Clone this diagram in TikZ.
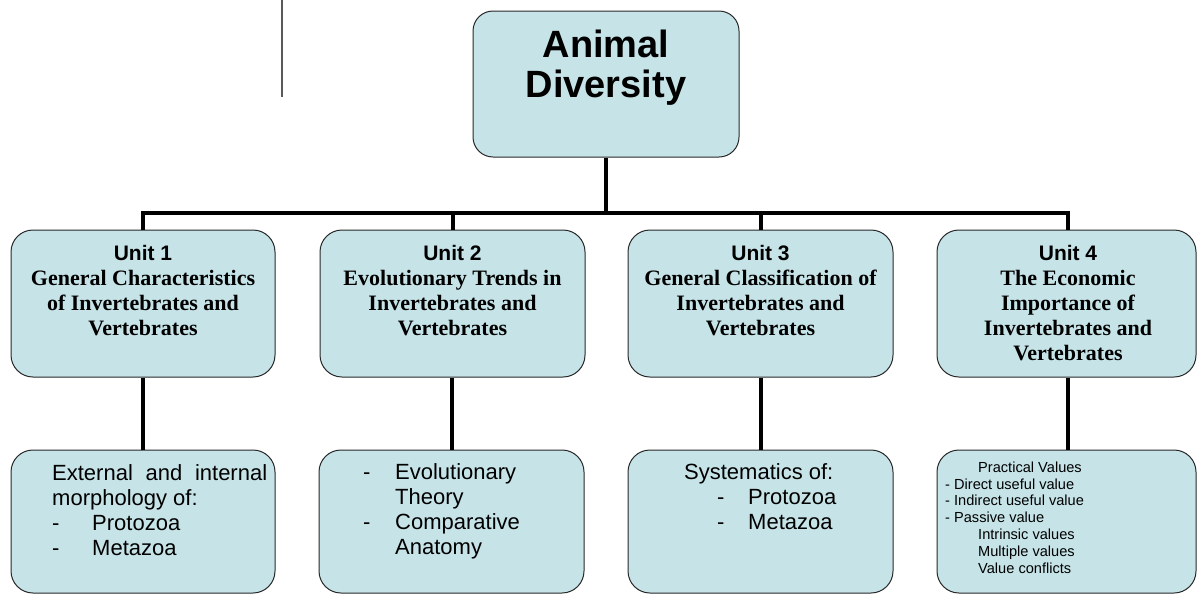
\documentclass[tikz,border=0pt]{standalone}
\usepackage{fontspec}
\setmainfont{Liberation Serif}
\newfontfamily\arialfont{Liberation Sans}
\definecolor{boxfill}{RGB}{198,228,232}
\definecolor{boxline}{RGB}{40,40,40}
\begin{document}
\begin{tikzpicture}[x=1pt,y=-1pt,
  box/.style={draw=boxline, line width=1pt, fill=boxfill, inner sep=0pt, rounded corners=22pt},
  conn/.style={line width=4pt, line join=miter},
  txt/.style={inner sep=0pt, align=center},
  unittxt/.style={txt, font=\bfseries\fontsize{22}{25}\selectfont},
  listtxt/.style={inner sep=0pt, align=left, anchor=base west, font=\arialfont\fontsize{22}{25}\selectfont},
  smalltxt/.style={inner sep=0pt, align=left, anchor=base west, font=\arialfont\fontsize{14.6}{16.8}\selectfont}
]
\useasboundingbox (0,0) rectangle (1197,595);

% stray vertical line
\coordinate (g1) at (282,0);
\coordinate (g2) at (282,97);
\draw[gray!70!black, line width=1.5pt] (g1) -- (g2);

% main box
\node[box, rounded corners=20pt, minimum width=266pt, minimum height=146pt] (main) at (606,84) {};

% unit boxes
\node[box, minimum width=264pt, minimum height=147pt] (u1) at (143,303.5) {};
\node[box, minimum width=265pt, minimum height=147pt] (u2) at (452.5,303.5) {};
\node[box, minimum width=265pt, minimum height=147pt] (u3) at (760.5,303.5) {};
\node[box, minimum width=259pt, minimum height=147pt] (u4) at (1066.5,303.5) {};

% bottom boxes
\node[box, minimum width=264pt, minimum height=143pt] (b1) at (143,521.5) {};
\node[box, minimum width=265pt, minimum height=143pt] (b2) at (451.5,521.5) {};
\node[box, minimum width=265pt, minimum height=143pt] (b3) at (760.5,521.5) {};
\node[box, minimum width=259pt, minimum height=143pt] (b4) at (1066.5,521.5) {};

% connectors
\coordinate (bus) at (606,212.5);
\draw[conn] (main.south) -- (main.south |- bus);
\draw[conn] (u1.north) -- (u1.north |- bus) -- ([xshift=1.5pt]u4.north |- bus) -- ([xshift=1.5pt]u4.north);
\draw[conn] (u2.north) -- (u2.north |- bus);
\draw[conn] (u3.north) -- (u3.north |- bus);
\draw[conn] (u1.south) -- (b1.north);
\draw[conn] ([xshift=-0.5pt]u2.south) -- ([xshift=-0.5pt]u2.south |- b2.north);
\draw[conn] (u3.south) -- (b3.north);
\draw[conn] ([xshift=1.5pt]u4.south) -- ([xshift=1.5pt]u4.south |- b4.north);

% texts (anchor base = baseline of last line)
\node[txt, anchor=base, font=\arialfont\bfseries\fontsize{38}{40}\selectfont] (maint) at (606,97) {Animal\\Diversity};

\node[unittxt, anchor=base] (u1t) at (143,335) {{\arialfont\fontsize{21}{25}\selectfont Unit 1}\\General Characteristics\\of Invertebrates and\\Vertebrates};
\node[unittxt, anchor=base] (u2t) at (452.5,335) {{\arialfont\fontsize{21}{25}\selectfont Unit 2}\\Evolutionary Trends in\\Invertebrates and\\Vertebrates};
\node[unittxt, anchor=base] (u3t) at (760.5,335) {{\arialfont\fontsize{21}{25}\selectfont Unit 3}\\General Classification of\\Invertebrates and\\Vertebrates};
\node[unittxt, anchor=base] (u4t) at (1068,360) {{\arialfont\fontsize{21}{25}\selectfont Unit 4}\\The Economic\\Importance of\\Invertebrates and\\Vertebrates};

\node[listtxt] (b1t) at (52,555) {\makebox[215pt][s]{External and internal}\\morphology of:\\\makebox[40pt][l]{-}Protozoa\\\makebox[40pt][l]{-}Metazoa};
\node[listtxt] (b2t) at (363,554) {\makebox[32pt][l]{-}Evolutionary\\\hspace*{32pt}Theory\\\makebox[32pt][l]{-}Comparative\\\hspace*{32pt}Anatomy};
\node[listtxt] (b3t) at (684,529) {Systematics of:\\\hspace*{33pt}\makebox[31pt][l]{-}Protozoa\\\hspace*{33pt}\makebox[31pt][l]{-}Metazoa};
\node[smalltxt] (b4t) at (945,573) {\hspace*{33pt}Practical Values\\- Direct useful value\\- Indirect useful value\\- Passive value\\\hspace*{33pt}Intrinsic values\\\hspace*{33pt}Multiple values\\\hspace*{33pt}Value conflicts};
\end{tikzpicture}
\end{document}
